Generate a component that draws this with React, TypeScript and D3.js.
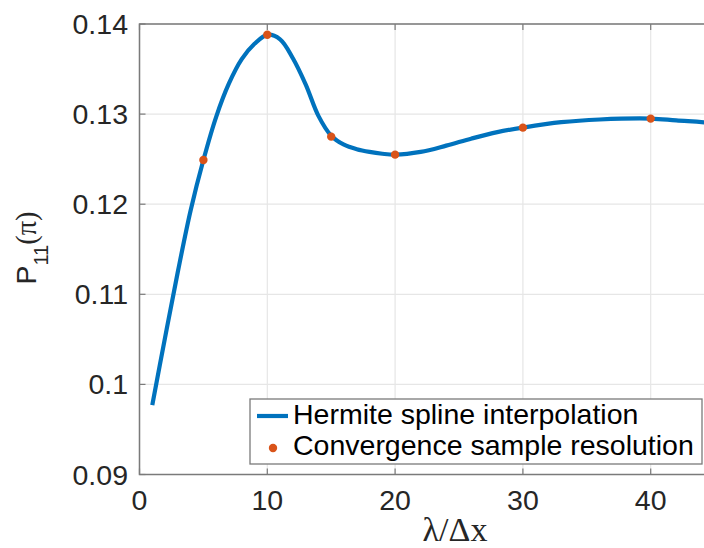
import React from "react";
import * as d3 from "d3";

const curveX = [1, 2, 3, 4, 5, 6, 7, 8, 9, 10, 11, 12, 13, 14, 15, 16, 17, 18, 19, 20, 22, 24, 26, 28, 30, 33, 36, 40, 42, 45, 48];
const curveY = [0.0977, 0.1052, 0.1125, 0.1193, 0.1249, 0.1297, 0.1334, 0.1361, 0.1378, 0.1388, 0.1383, 0.1362, 0.1333, 0.1298, 0.1276, 0.1266, 0.1261, 0.1258, 0.1256, 0.1255, 0.1258, 0.1265, 0.1273, 0.128, 0.1285, 0.1291, 0.1294, 0.1295, 0.1293, 0.129, 0.1286];
const sampleX = [5, 10, 15, 20, 30, 40];
const sampleY = [0.1249, 0.1388, 0.1275, 0.1255, 0.1285, 0.1295];
const xTicks = [0, 10, 20, 30, 40, 50];
const xTickLabels = ["0", "10", "20", "30", "40", ""];
const yTicks = [0.09, 0.1, 0.11, 0.12, 0.13, 0.14];
const yTickLabels = ["0.09", "0.1", "0.11", "0.12", "0.13", "0.14"];
const legendLabels = ["Hermite spline interpolation", "Convergence sample resolution"];

const W = 704;
const H = 548;
const SANS = "'Liberation Sans', Arial, Helvetica, sans-serif";
const SERIF = "'Liberation Serif', 'Times New Roman', serif";
const BLUE = "#0072BD";
const ORANGE = "#D95319";

export default function App() {
  const x = d3.scaleLinear().domain([0, 50]).range([139.5, 778.5]);
  const y = d3.scaleLinear().domain([0.09, 0.14]).range([474.5, 24]);
  const pts: [number, number][] = curveX.map((v, i) => [v, curveY[i]]);
  const line = d3
    .line<[number, number]>()
    .x((d) => x(d[0]))
    .y((d) => y(d[1]))
    .curve(d3.curveCatmullRom.alpha(0.5));

  const x0 = x(0), x1 = x(50), yb = y(0.09), yt = y(0.14);
  const axisColor = "#7a7a7a";

  return (
    <svg width={W} height={H} style={{ position: "absolute", left: 0, top: 0, background: "#fff" }}>
      <rect x={0} y={0} width={W} height={H} fill="#fff" />
      {/* grid */}
      {xTicks.map((t) => (
        <line key={"gx" + t} x1={x(t)} x2={x(t)} y1={yb} y2={yt} stroke="#e6e6e6" strokeWidth={1.2} />
      ))}
      {yTicks.map((t) => (
        <line key={"gy" + t} x1={x0} x2={x1} y1={y(t)} y2={y(t)} stroke="#e6e6e6" strokeWidth={1.2} />
      ))}
      {/* axes box */}
      <rect x={x0} y={yt} width={x1 - x0} height={yb - yt} fill="none" stroke={axisColor} strokeWidth={1.5} />
      {/* ticks */}
      {xTicks.map((t) => (
        <g key={"tx" + t}>
          <line x1={x(t)} x2={x(t)} y1={yb} y2={yb - 6} stroke={axisColor} strokeWidth={1.2} />
          <line x1={x(t)} x2={x(t)} y1={yt} y2={yt + 6} stroke={axisColor} strokeWidth={1.2} />
        </g>
      ))}
      {yTicks.map((t) => (
        <line key={"ty" + t} x1={x0} x2={x0 + 6} y1={y(t)} y2={y(t)} stroke={axisColor} strokeWidth={1.2} />
      ))}
      {/* tick labels */}
      {xTicks.map((t, i) =>
        xTickLabels[i] ? (
          <text key={"lx" + t} x={x(t)} y={510} textAnchor="middle" fontFamily={SANS} fontSize={28.5} fill="#262626">
            {xTickLabels[i]}
          </text>
        ) : null
      )}
      {yTicks.map((t, i) => (
        <text key={"ly" + t} x={128} y={y(t) + 10} textAnchor="end" fontFamily={SANS} fontSize={28.5} fill="#262626">
          {yTickLabels[i]}
        </text>
      ))}
      {/* curve */}
      <path d={line(pts) || ""} fill="none" stroke={BLUE} strokeWidth={4.2} strokeLinejoin="round" strokeLinecap="butt" />
      {/* samples */}
      {sampleX.map((v, i) => (
        <circle key={"s" + v} cx={x(v)} cy={y(sampleY[i])} r={4.2} fill={ORANGE} />
      ))}
      {/* axis labels */}
      <text x={455} y={541} textAnchor="middle" fontFamily={SERIF} fontSize={34} fill="#262626">
        λ/Δx
      </text>
      <text transform="translate(36,248) rotate(-90)" textAnchor="middle" fontFamily={SANS} fontSize={28.5} fill="#262626">
        P
        <tspan fontSize={20} dy={12}>11</tspan>
        <tspan dy={-12} fontFamily={SERIF}>(π)</tspan>
      </text>
      {/* legend */}
      <rect x={250} y={399} width={452} height={65} fill="#fff" stroke={axisColor} strokeWidth={1.3} />
      <line x1={257} x2={288} y1={416} y2={416} stroke={BLUE} strokeWidth={4.2} />
      <circle cx={273} cy={448} r={4.2} fill={ORANGE} />
      <text x={293} y={424} fontFamily={SANS} fontSize={28.5} fill="#000">
        {legendLabels[0]}
      </text>
      <text x={293} y={455} fontFamily={SANS} fontSize={28.5} fill="#000">
        {legendLabels[1]}
      </text>
    </svg>
  );
}
